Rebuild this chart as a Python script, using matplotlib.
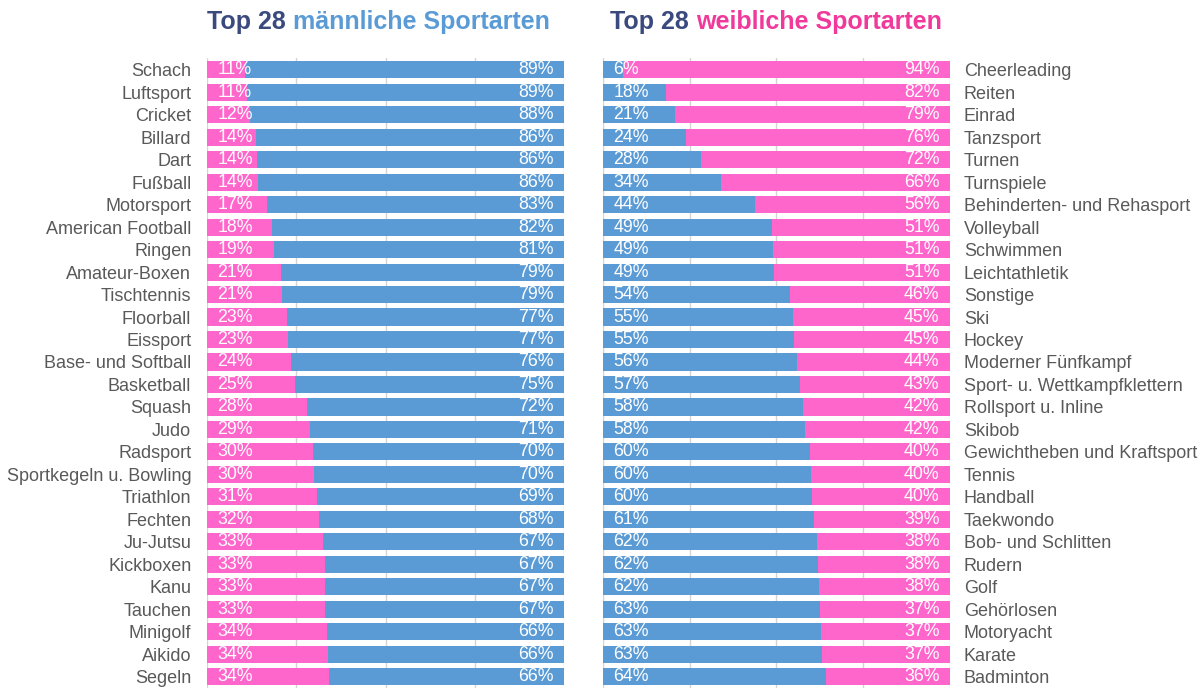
import matplotlib.pyplot as plt

# Top 28 male sports (share of women / men in %)
male_sports = ['Schach', 'Luftsport', 'Cricket', 'Billard', 'Dart', 'Fußball', 'Motorsport',
               'American Football', 'Ringen', 'Amateur-Boxen', 'Tischtennis', 'Floorball',
               'Eissport', 'Base- und Softball', 'Basketball', 'Squash', 'Judo', 'Radsport',
               'Sportkegeln u. Bowling', 'Triathlon', 'Fechten', 'Ju-Jutsu', 'Kickboxen',
               'Kanu', 'Tauchen', 'Minigolf', 'Aikido', 'Segeln']
male_sports_women = [10.8, 11.3, 12.2, 13.8, 14.1, 14.4, 16.9, 18.2, 18.9, 20.7, 21.0, 22.6,
                     22.8, 23.6, 24.6, 28.1, 28.8, 29.6, 30.1, 30.9, 31.5, 32.6, 33.0, 33.1,
                     33.2, 33.6, 33.9, 34.2]

# Top 28 female sports (share of men / women in %)
female_sports = ['Cheerleading', 'Reiten', 'Einrad', 'Tanzsport', 'Turnen', 'Turnspiele',
                 'Behinderten- und Rehasport', 'Volleyball', 'Schwimmen', 'Leichtathletik',
                 'Sonstige', 'Ski', 'Hockey', 'Moderner Fünfkampf', 'Sport- u. Wettkampfklettern',
                 'Rollsport u. Inline', 'Skibob', 'Gewichtheben und Kraftsport', 'Tennis',
                 'Handball', 'Taekwondo', 'Bob- und Schlitten', 'Rudern', 'Golf', 'Gehörlosen',
                 'Motoryacht', 'Karate', 'Badminton']
female_sports_men = [5.9, 18.2, 20.9, 23.8, 28.2, 33.9, 43.8, 48.7, 49.0, 49.2, 53.8, 54.8,
                     55.1, 55.9, 56.8, 57.7, 58.3, 59.7, 60.0, 60.2, 60.8, 61.7, 62.0, 62.3,
                     62.6, 62.8, 63.1, 64.2]

PINK = '#ff66cc'
BLUE = '#5b9bd5'
NAVY = '#3b4a7e'
GRAY = '#595959'

plt.rcParams['font.family'] = ['Liberation Sans', 'DejaVu Sans']

fig = plt.figure(figsize=(12.01, 6.88), dpi=100)
ax1 = fig.add_axes([0.172, 0.0, 0.298, 0.915])
ax2 = fig.add_axes([0.502, 0.0, 0.289, 0.915])


def panel(ax, names, first, first_color, second_color, label_side):
    y = list(range(len(names)))
    second = [100 - v for v in first]
    ax.barh(y, first, height=0.76, color=first_color, zorder=2)
    ax.barh(y, second, left=first, height=0.76, color=second_color, zorder=2)
    for yi, a, b in zip(y, first, second):
        ax.text(3, yi, '%.0f%%' % a, color='white', fontsize=12.8, va='center', ha='left', zorder=3)
        ax.text(97, yi, '%.0f%%' % b, color='white', fontsize=12.8, va='center', ha='right', zorder=3)
    ax.set_xlim(0, 100)
    ax.set_ylim(len(names) - 0.5, -0.5)
    ax.set_xticks([0, 25, 50, 75, 100])
    ax.grid(axis='x', color='#d4d4d4', linewidth=1, zorder=0)
    ax.tick_params(length=0, labelbottom=False)
    for s in ax.spines.values():
        s.set_visible(False)
    ax.set_yticks(y)
    ax.set_yticklabels(names, fontsize=13, color=GRAY)
    if label_side == 'right':
        ax.yaxis.tick_right()
        ax.tick_params(axis='y', pad=10)
    else:
        ax.tick_params(axis='y', pad=11)


panel(ax1, male_sports, male_sports_women, PINK, BLUE, 'left')
panel(ax2, female_sports, female_sports_men, BLUE, PINK, 'right')


# titles in two colours, second part placed right after the first
def two_color_title(x, first, second, color2):
    t = fig.text(x, 0.968, first, color=NAVY, fontsize=18, fontweight='bold', va='center')
    fig.canvas.draw()
    bb = t.get_window_extent().transformed(fig.transFigure.inverted())
    fig.text(bb.x1 + 0.006, 0.968, second, color=color2, fontsize=18, fontweight='bold', va='center')


two_color_title(0.172, 'Top 28', 'männliche Sportarten', BLUE)
two_color_title(0.508, 'Top 28', 'weibliche Sportarten', '#f0399a')

fig.savefig('out.png', dpi=100)
